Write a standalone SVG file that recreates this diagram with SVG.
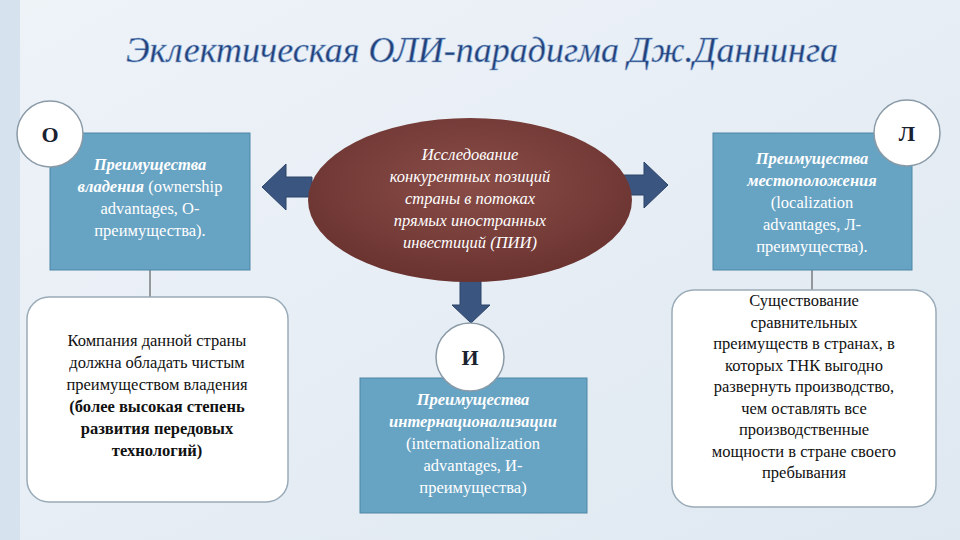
<svg xmlns="http://www.w3.org/2000/svg" width="960" height="540" viewBox="0 0 960 540">
<defs>
<linearGradient id="bg" x1="0" y1="0" x2="1" y2="1"><stop offset="0" stop-color="#eef3f8"/><stop offset="1" stop-color="#dfe8f1"/></linearGradient>
<radialGradient id="el" cx="0.5" cy="0.4" r="0.6"><stop offset="0" stop-color="#8a4d48"/><stop offset="1" stop-color="#6a3330"/></radialGradient>
</defs>
<style>
text{font-family:"Liberation Serif","Times New Roman","DejaVu Serif",serif}
.box{fill:#67a3c3;stroke:#4f86a6;stroke-width:1}
.rbox{fill:#fff;stroke:#9aabb8;stroke-width:1.5}
.circ{fill:#fff;stroke:#8a9aa6;stroke-width:1.5}
.arr{fill:#3a5580;stroke:#2c4468;stroke-width:1}
.t{font-size:16.5px;text-anchor:middle}
.w{fill:#fff}
.k{fill:#111}
.bi{font-weight:bold;font-style:italic}
.l{font-size:22px;font-weight:bold;text-anchor:middle;fill:#1a2230}
</style>
<rect width="960" height="540" fill="url(#bg)"/>
<rect x="0" y="0" width="20" height="540" fill="#d6e2ee"/>
<text x="482" y="62" font-style="italic" font-size="36" text-anchor="middle" fill="#22407a" stroke="#8fb0d8" stroke-width="0.6">Эклектическая ОЛИ-парадигма Дж.Даннинга</text>
<g id="connectors">
<line x1="150" y1="270" x2="150" y2="297" stroke="#444" stroke-width="1"/>
<line x1="812" y1="270" x2="812" y2="290" stroke="#444" stroke-width="1"/>
<path class="arr" d="M262,187 L286,164 L286,177 L312,177 L312,197 L286,197 L286,210 Z"/>
<path class="arr" d="M668,185 L644,162 L644,175 L614,175 L614,195 L644,195 L644,208 Z"/>
<path class="arr" d="M471,323 L452,305 L460,305 L460,272 L481,272 L481,305 L490,305 Z"/>
</g>
<g id="node-o-box"><rect class="box" x="50" y="133" width="200" height="137"/>
<text class="t w" y="170"><tspan x="150" class="bi">Преимущества</tspan><tspan x="150" dy="22"><tspan class="bi">владения</tspan> (ownership</tspan><tspan x="150" dy="22">advantages, O-</tspan><tspan x="150" dy="22">преимущества).</tspan></text></g>
<g id="node-o"><circle class="circ" cx="50" cy="134" r="33"/><text class="l" x="50" y="142">О</text></g>
<g id="node-o-desc"><rect class="rbox" x="27" y="297" width="261" height="205" rx="22"/>
<text class="t k" y="346"><tspan x="157">Компания данной страны</tspan><tspan x="157" dy="22">должна обладать чистым</tspan><tspan x="157" dy="22">преимуществом владения</tspan><tspan x="157" dy="22" font-weight="bold">(более высокая степень</tspan><tspan x="157" dy="22" font-weight="bold">развития передовых</tspan><tspan x="157" dy="22" font-weight="bold">технологий)</tspan></text></g>
<g id="node-center"><ellipse cx="470" cy="200" rx="162" ry="82" fill="url(#el)"/>
<text class="t w" font-style="italic" y="160"><tspan x="470">Исследование</tspan><tspan x="470" dy="22">конкурентных позиций</tspan><tspan x="470" dy="22">страны в потоках</tspan><tspan x="470" dy="22">прямых иностранных</tspan><tspan x="470" dy="22">инвестиций (ПИИ)</tspan></text></g>
<g id="node-i-box"><rect class="box" x="360" y="378" width="227" height="135"/>
<text class="t w" y="405"><tspan x="473" class="bi">Преимущества</tspan><tspan x="473" dy="22" class="bi">интернационализации</tspan><tspan x="473" dy="22">(internationalization</tspan><tspan x="473" dy="22">advantages, И-</tspan><tspan x="473" dy="22">преимущества)</tspan></text></g>
<g id="node-i"><circle class="circ" cx="470" cy="357" r="34"/><text class="l" x="470" y="365">И</text></g>
<g id="node-l-box"><rect class="box" x="713" y="133" width="199" height="137"/>
<text class="t w" y="164"><tspan x="812" class="bi">Преимущества</tspan><tspan x="812" dy="22" class="bi">местоположения</tspan><tspan x="812" dy="22">(localization</tspan><tspan x="812" dy="22">advantages, Л-</tspan><tspan x="812" dy="22">преимущества).</tspan></text></g>
<g id="node-l"><circle class="circ" cx="907" cy="133" r="33"/><text class="l" x="907" y="141">Л</text></g>
<g id="node-l-desc"><rect class="rbox" x="672" y="290" width="264" height="217" rx="22"/>
<text class="t k" y="306"><tspan x="804">Существование</tspan><tspan x="804" dy="21.5">сравнительных</tspan><tspan x="804" dy="21.5">преимуществ в странах, в</tspan><tspan x="804" dy="21.5">которых ТНК выгодно</tspan><tspan x="804" dy="21.5">развернуть производство,</tspan><tspan x="804" dy="21.5">чем оставлять все</tspan><tspan x="804" dy="21.5">производственные</tspan><tspan x="804" dy="21.5">мощности в стране своего</tspan><tspan x="804" dy="21.5">пребывания</tspan></text></g>
</svg>
